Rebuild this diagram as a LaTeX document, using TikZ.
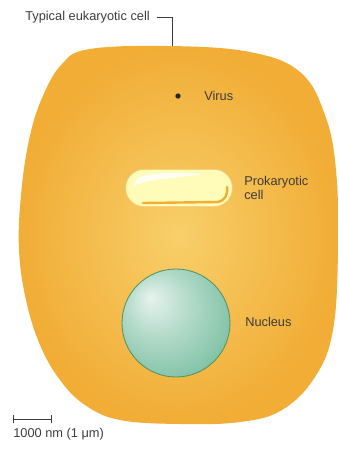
\documentclass[tikz,border=0pt]{standalone}
\usepackage{fontspec}
\setmainfont{Liberation Sans}
\usetikzlibrary{positioning}

\definecolor{cellrim}{RGB}{241,173,54}
\definecolor{cellmid}{RGB}{248,207,106}
\definecolor{nucleusrim}{RGB}{92,176,140}
\definecolor{nucleusline}{RGB}{76,146,96}
\definecolor{labelgray}{RGB}{60,60,60}

\pgfdeclareradialshading{nucleusglow}{\pgfpoint{-12bp}{12bp}}{%
  color(0bp)=(white!85!nucleusrim);
  color(14bp)=(white!55!nucleusrim);
  color(34bp)=(white!18!nucleusrim);
  color(50bp)=(nucleusrim)}

\begin{document}
\begin{tikzpicture}[
    x=0.75pt, y=-0.75pt,
    label/.style={text=labelgray, font=\fontsize{9.6}{8.6}\selectfont, inner sep=0pt, align=left},
    virus/.style={circle, fill=black!85, inner sep=0pt, minimum size=4pt},
    prok/.style={rectangle, rounded corners=13.5pt, draw=cellrim!70!white, line width=0.6pt, fill=yellow!28!white, minimum width=80pt, minimum height=28pt},
    nucleus/.style={circle, draw=nucleusline, line width=0.6pt, shading=nucleusglow, minimum size=81pt},
    leader/.style={draw=labelgray, line width=0.5pt}
]
\useasboundingbox (0,0) rectangle (339,451);

% Eukaryotic cell body
\path[shading=radial, inner color=cellmid, outer color=cellrim]
  plot[smooth cycle, tension=0.65] coordinates {
    (90,49) (170,46) (250,52) (300,72) (325,115) (336,170) (338,250)
    (333,330) (315,377) (282,410) (240,422) (180,424) (120,420)
    (85,405) (60,380) (40,345) (26,300) (19,250) (21,195) (29,140)
    (42,98) (62,64)};
\coordinate (celltop) at (172,46);

% Labels
\node[label, anchor=west] (eukaryote) at (25,17) {Typical eukaryotic cell};
\node[virus] (virus) at (178,96) {};
\node[label, anchor=west] (viruslabel) at (204,96) {Virus};
\node[prok] (prokaryote) at (179,188) {};
\node[label, anchor=west] (proklabel) at (244,188) {Prokaryotic\\cell};
\node[nucleus] (nucleus) at (176,323) {};
\node[label, anchor=west] (nucleuslabel) at (245,322) {Nucleus};

% Leader from the title to the cell wall
\draw[leader] ([xshift=5pt]eukaryote.east) -| (celltop);

% Highlights inside the prokaryote
\fill[white, opacity=0.85] (134,186) .. controls (134,172) and (160,172) .. (205,174)
  .. controls (180,178) and (150,178) .. (134,186) -- cycle;
\draw[cellrim, line width=1.8pt, line cap=round] (143,203) -- (217,202)
  .. controls (225,201) and (228,195) .. (227,187);

% Scale bar
\coordinate (barleft) at (13,419);
\coordinate (barright) at (51,419);
\draw[leader] (barleft) -- (barright);
\draw[leader] ([yshift=-3pt]barleft) -- ([yshift=3pt]barleft);
\draw[leader] ([yshift=-3pt]barright) -- ([yshift=3pt]barright);
\node[label, anchor=west] (scalelabel) at (13,434) {1000 nm (1 μm)};

\end{tikzpicture}
\end{document}
